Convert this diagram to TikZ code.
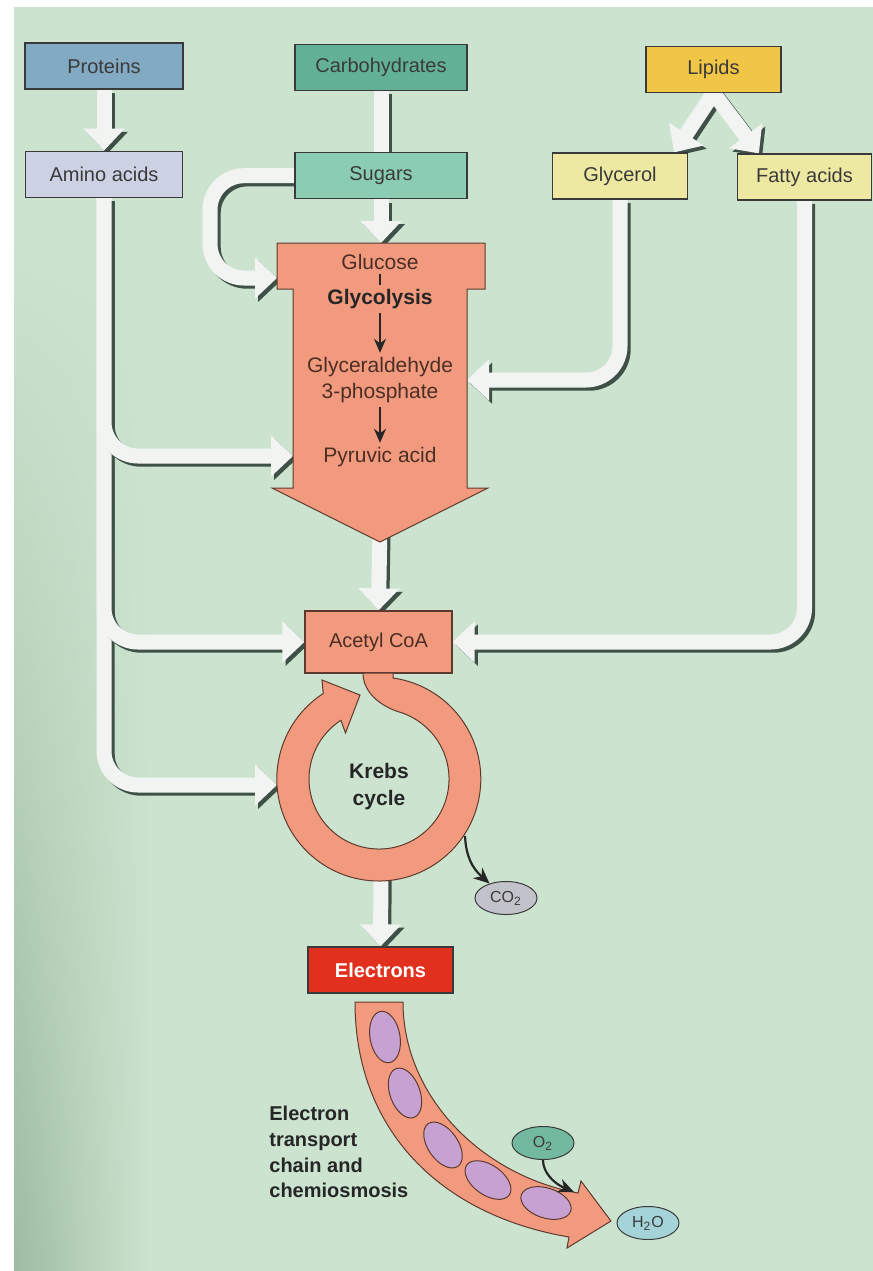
\documentclass[tikz,border=0pt]{standalone}
\usepackage{fontspec}
\setmainfont{Liberation Sans}
\usetikzlibrary{positioning,arrows.meta,shapes.geometric,fadings}

\definecolor{pagegreen}{HTML}{CCE4CF}
\definecolor{spinegreen}{HTML}{9FBBA2}
\definecolor{flowwhite}{HTML}{F2F4F1}
\definecolor{flowshade}{HTML}{3F5147}
\definecolor{salmon}{HTML}{F29A7E}
\definecolor{salmonline}{HTML}{5E3A2E}
\definecolor{protblue}{HTML}{82AAC3}
\definecolor{carbteal}{HTML}{62B197}
\definecolor{sugarteal}{HTML}{8ACDB2}
\definecolor{aminolav}{HTML}{CDD1E4}
\definecolor{lipidgold}{HTML}{F1C545}
\definecolor{paleyellow}{HTML}{EEE9A2}
\definecolor{elecred}{HTML}{E1301E}
\definecolor{carrierpurple}{HTML}{C7A1D1}
\definecolor{gasgray}{HTML}{C2C2CA}
\definecolor{oxteal}{HTML}{72B9A0}
\definecolor{waterblue}{HTML}{A5D3DA}
\definecolor{inkgray}{HTML}{3A3A3A}

\pgfdeclarelayer{page}
\pgfdeclarelayer{flows}
\pgfsetlayers{page,flows,main}

\tikzset{
  box/.style={draw=inkgray, line width=0.6pt, minimum height=23pt, inner sep=2pt,
    text=inkgray, font=\fontsize{10}{12}\selectfont},
  flow/.style={draw=flowwhite, line width=7.5pt, rounded corners=17pt,
    -{Triangle[width=20pt,length=11pt]},
    preaction={draw=flowshade, line width=7.5pt, transform canvas={shift={(1.6pt,-1.6pt)}}}},
  bar/.style={draw=flowwhite, line width=7.5pt,
    preaction={draw=flowshade, line width=7.5pt, transform canvas={shift={(1.6pt,-1.6pt)}}}},
  stepline/.style={draw=black!85, line width=1.1pt, -{Stealth[length=7pt,width=6pt]}},
  gasarrow/.style={draw=black!85, line width=1.1pt, -{Stealth[length=8pt,width=7pt]}},
  salmontext/.style={text=salmonline!80!black, inner sep=2pt, align=center,
    font=\fontsize{10.5}{13}\selectfont},
  gas/.style={ellipse, draw=inkgray, line width=0.5pt, minimum width=31pt,
    minimum height=16.5pt, inner sep=0pt, text=inkgray, font=\fontsize{8}{9}\selectfont},
  carrier/.style={ellipse, draw=salmonline, fill=carrierpurple, line width=0.5pt,
    minimum width=26pt, minimum height=15pt, inner sep=0pt},
  salmonbody/.style={fill=salmon, draw=salmonline, line width=0.5pt},
}

\begin{document}
\begin{tikzpicture}[x=0.5pt, y=-0.5pt]
\useasboundingbox (0,0) rectangle (873,1271);

% page
\begin{pgfonlayer}{page}
\fill[white] (0,0) rectangle (873,1271);
\fill[pagegreen] (14,7) rectangle (873,1271);
\shade[left color=spinegreen, right color=pagegreen, path fading=north] (14,250) rectangle (150,1271);
\end{pgfonlayer}

% food sources
\node[box, fill=protblue, minimum width=79pt] (proteins) at (104,66) {Proteins};
\node[box, fill=aminolav, minimum width=78.5pt, below=30.5pt of proteins] (amino) {Amino acids};
\node[box, fill=carbteal, minimum width=86pt] (carbs) at (381,67.5) {Carbohydrates};
\node[box, fill=sugarteal, minimum width=86pt, below=30.5pt of carbs] (sugars) {Sugars};
\node[box, fill=lipidgold, minimum width=67.5pt] (lipids) at (713.5,69.5) {Lipids};
\node[box, fill=paleyellow, minimum width=67.5pt] (glycerol) at (620,176) {Glycerol};
\node[box, fill=paleyellow, minimum width=67pt] (fatty) at (804.5,177) {Fatty acids};

% glycolysis
\filldraw[salmonbody] (277,243) -- (485,243) -- (485,289) -- (467,289) -- (467,488) -- (488,488)
  -- (380,542) -- (272,488) -- (293,488) -- (293,289) -- (277,289) -- cycle;
\coordinate (gly-top) at (381,243);
\coordinate (gly-sugar) at (277,278);
\coordinate (gly-glycerol) at (467,380);
\coordinate (gly-amino) at (293,456);
\coordinate (gly-tip) at (380,520);

\node[salmontext] (glucose) at (380,262) {Glucose};
\node[salmontext, text=black!85, font=\bfseries\fontsize{10.5}{13}\selectfont] (glycolysis) at (380,299) {Glycolysis};
\node[salmontext] (g3p) at (380,380) {Glyceraldehyde\\3-phosphate};
\node[salmontext] (pyruvic) at (380,457) {Pyruvic acid};
\draw[draw=black!85, line width=1.1pt] (glucose) -- (glycolysis);
\draw[stepline] (glycolysis) -- (g3p);
\draw[stepline] (g3p) -- (pyruvic);

% acetyl CoA and the Krebs ring
\node[box, fill=salmon, draw=salmonline, minimum width=73.5pt, minimum height=31pt,
  text=salmonline!80!black] (acetyl) at (378.5,642) {Acetyl CoA};
\filldraw[salmonbody] (393,673) -- (393,678)
  arc[start angle=-82, end angle=237, radius=102]
  -- (322,680) -- (360,695) -- (345.5,733) -- (340.9,720.3)
  arc[start angle=237, end angle=-72, radius=70]
  .. controls (385,708) and (363,695) .. (363,673) -- cycle;
\node[align=center, text=black!85, font=\bfseries\fontsize{10.5}{13.5}\selectfont] (krebs) at (379,787) {Krebs\\cycle};
\coordinate (krebs-left) at (277,785);
\coordinate (krebs-out) at (381,870);
\coordinate (krebs-co2) at (465,836);

\node[gas, fill=gasgray] (co2) at (506,898) {CO\textsubscript{2}};
\draw[gasarrow] (krebs-co2) .. controls (466,856) and (472,868) .. (co2);

% electron transport
\node[box, fill=elecred, text=white, minimum width=72.5pt, font=\bfseries\fontsize{10}{12}\selectfont] (electrons) at (380.5,970) {Electrons};
\filldraw[salmonbody] (355,1002) -- (403,1002) .. controls (403,1095) and (480,1175) .. (578,1193)
  -- (581,1181) -- (611,1221) -- (567,1248) -- (569,1237)
  .. controls (440,1215) and (355,1130) .. (355,1002) -- cycle;
\foreach \cx/\cy/\ang in {385/1037/-80, 405/1093/-70, 443/1145/-55, 488/1180/-35, 546/1203/-18}
  \node[carrier, rotate=\ang] at (\cx,\cy) {};
\coordinate (etc-o2) at (574,1192);

\node[gas, fill=oxteal] (o2) at (543,1143) {O\textsubscript{2}};
\node[gas, fill=waterblue] (h2o) at (648,1223) {H\textsubscript{2}O};
\draw[gasarrow] (o2) .. controls (543,1172) and (553,1183) .. (etc-o2);

\node[anchor=north west, inner sep=0pt, align=left, text=black!85,
  font=\bfseries\fontsize{10}{12.8}\selectfont] (etc) at (269,1106) {Electron\\transport\\chain and\\chemiosmosis};

% white flow arrows
\begin{pgfonlayer}{flows}
\draw[flow] (proteins) -- (amino);
\draw[bar] (carbs) -- (sugars);
\draw[flow] (sugars.south) -- (gly-top);
\draw[flow] (sugars.west) -| (210,278) -- (gly-sugar);
\draw[flow] (lipids.south) -- ([xshift=-7pt]glycerol.north east);
\draw[flow] (lipids.south) -- ([xshift=11pt]fatty.north west);
\draw[flow] (amino.south) |- (krebs-left);
\draw[flow] (amino.south) |- (acetyl.west);
\draw[flow] (amino.south) |- (gly-amino);
\draw[flow] (glycerol.south) |- (gly-glycerol);
\draw[flow] (fatty.south) |- (acetyl.east);
\draw[flow] (gly-tip) -- (acetyl.north);
\draw[flow] (krebs-out) -- (electrons.north);
\end{pgfonlayer}
\end{tikzpicture}
\end{document}
